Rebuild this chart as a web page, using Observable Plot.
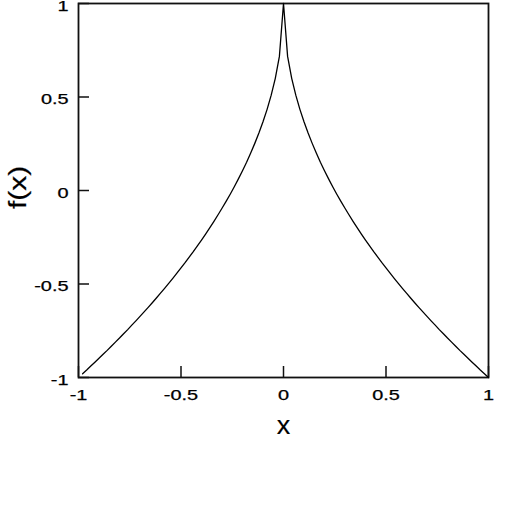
<!DOCTYPE html>
<html><head><meta charset="utf-8">
<script src="https://cdn.jsdelivr.net/npm/d3@7"></script>
<script src="https://cdn.jsdelivr.net/npm/@observablehq/plot@0.6"></script>
<style>
body{margin:0;background:#fff}
svg{font-family:"Liberation Sans",Arial,Helvetica,sans-serif}
</style>
</head><body><div id="chart"></div>
<script>
// |x| sample positions (curve is symmetric about x = 0)
const xAbs = [0, 0.02, 0.04, 0.06, 0.08, 0.10, 0.12, 0.14, 0.16, 0.18, 0.20,
  0.22, 0.24, 0.26, 0.28, 0.30, 0.32, 0.34, 0.36, 0.38, 0.40,
  0.42, 0.44, 0.46, 0.48, 0.50, 0.52, 0.54, 0.56, 0.58, 0.60,
  0.62, 0.64, 0.66, 0.68, 0.70, 0.72, 0.74, 0.76, 0.78, 0.80,
  0.82, 0.84, 0.86, 0.88, 0.90, 0.92, 0.94, 0.96, 0.98, 1.00];
// f values read at those positions
const fVals = [1, 0.717, 0.600, 0.510, 0.434, 0.368, 0.307, 0.252, 0.200, 0.151, 0.106,
  0.062, 0.020, -0.020, -0.058, -0.095, -0.131, -0.166, -0.200, -0.233, -0.265,
  -0.296, -0.327, -0.356, -0.386, -0.414, -0.442, -0.470, -0.497, -0.523, -0.549,
  -0.575, -0.600, -0.625, -0.649, -0.673, -0.697, -0.720, -0.744, -0.766, -0.789,
  -0.811, -0.833, -0.855, -0.876, -0.897, -0.918, -0.939, -0.960, -0.980, -1.000];
const xTicks = [-1, -0.5, 0, 0.5, 1];
const xTickLabels = ["-1", "-0.5", "0", "0.5", "1"];
const yTicks = [-1, -0.5, 0, 0.5, 1];
const yTickLabels = ["-1", "-0.5", "0", "0.5", "1"];
const xLabel = "x";
const yLabel = "f(x)";

// left branch starts at -0.98, right branch runs to 1
const pts = [];
for (let i = xAbs.length - 2; i >= 1; i--) pts.push({x: -xAbs[i], y: fVals[i]});
for (let i = 0; i < xAbs.length; i++) pts.push({x: xAbs[i], y: fVals[i]});

const chart = Plot.plot({
  width: 520, height: 520,
  marginTop: 3, marginRight: 32, marginBottom: 143, marginLeft: 78,
  x: {domain: [-1, 1], axis: null},
  y: {domain: [-1, 1], axis: null},
  style: {fontSize: "14px", color: "#000", background: "#fff"},
  marks: [
    Plot.frame({stroke: "#111", strokeWidth: 1.8}),
    Plot.ruleX(xTicks, {x: d => d, y1: d => -1, y2: d => -1, insetTop: -11, stroke: "#111", strokeWidth: 1.5}),
    Plot.ruleY(yTicks, {y: d => d, x1: d => -1, x2: d => -1, insetRight: -11, stroke: "#111", strokeWidth: 1.5}),
    Plot.text(xTicks, {x: d => d, y: d => -1, text: (d, i) => xTickLabels[i], dy: 18, fontSize: 14, fill: "#000", stroke: "#000", strokeWidth: 0.25, className: "tick"}),
    Plot.text(yTicks, {x: d => -1, y: d => d, text: (d, i) => yTickLabels[i], textAnchor: "end", dx: -10, dy: 3, fontSize: 14, fill: "#000", stroke: "#000", strokeWidth: 0.25, className: "tick"}),
    Plot.text([xLabel], {x: d => 0, y: d => -1, text: d => d, dy: 48, fontSize: 25, fill: "#000", stroke: "#000", strokeWidth: 0.2, className: "xlab"}),
    Plot.text([yLabel], {x: d => -1, y: d => 0, text: d => d, dx: -60, dy: -3, rotate: -90, fontSize: 23, fill: "#000", stroke: "#000", strokeWidth: 0.2, className: "ylab"}),
    Plot.line(pts, {x: "x", y: "y", stroke: "#000", strokeWidth: 1.3})
  ]
});
document.getElementById("chart").appendChild(chart);
// widen glyphs like the reference's lettering
const widen = (sel, k) => chart.querySelectorAll(sel + " text").forEach(t => {
  const len = t.getComputedTextLength();
  if (len > 0) {
    t.setAttribute("textLength", (len * k).toFixed(1));
    t.setAttribute("lengthAdjust", "spacingAndGlyphs");
  }
});
widen(".tick", 1.42);
widen(".xlab", 1.08);
widen(".ylab", 1.3);
</script>
</body></html>
